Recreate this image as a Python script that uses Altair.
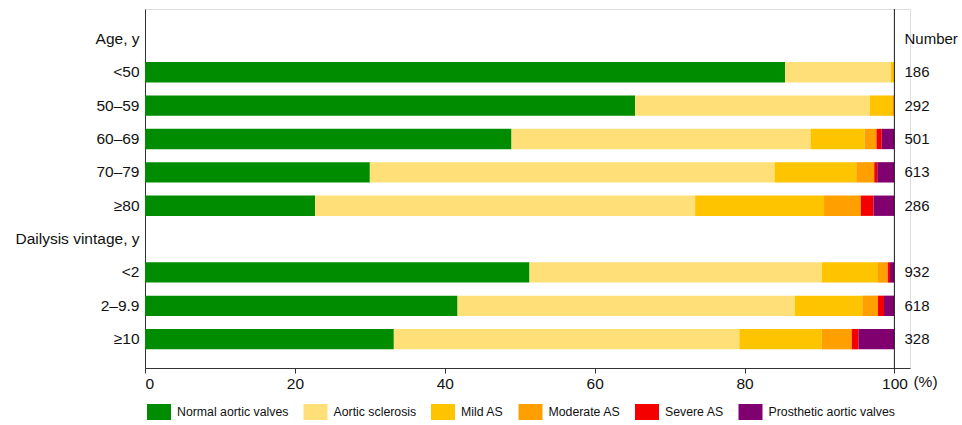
import altair as alt
import pandas as pd

rows = ["Age, y", "<50", "50–59", "60–69", "70–79", "≥80",
        "Dailysis vintage, y", "<2", "2–9.9", "≥10"]
bar_rows = ["<50", "50–59", "60–69", "70–79", "≥80", "<2", "2–9.9", "≥10"]
categories = ["Normal aortic valves", "Aortic sclerosis", "Mild AS",
              "Moderate AS", "Severe AS", "Prosthetic aortic valves"]
colors = ["#008C00", "#FFDF78", "#FFC400", "#FFA000", "#F50000", "#7F006E"]

normal = [85.4, 65.4, 48.9, 30.0, 22.7, 51.3, 41.7, 33.2]
sclerosis = [14.1, 31.3, 39.9, 54.0, 50.7, 39.0, 45.0, 46.1]
mild = [0.5, 3.0, 7.2, 10.9, 17.2, 7.5, 9.0, 11.0]
moderate = [0.0, 0.3, 1.6, 2.4, 4.9, 1.3, 2.1, 4.0]
severe = [0.0, 0.0, 0.7, 0.4, 1.7, 0.3, 0.8, 0.9]
prosthetic = [0.0, 0.0, 1.7, 2.3, 2.8, 0.6, 1.4, 4.8]
numbers = ["186", "292", "501", "613", "286", "932", "618", "328"]

series = [normal, sclerosis, mild, moderate, severe, prosthetic]
recs = []
for ci, (cat, vals) in enumerate(zip(categories, series)):
    for r, v in zip(bar_rows, vals):
        recs.append({"row": r, "cat": cat, "value": v, "idx": ci})
df = pd.DataFrame(recs)

num_df = pd.DataFrame({"row": ["Age, y"] + bar_rows,
                       "label": ["Number"] + numbers,
                       "x": [100] * (len(bar_rows) + 1)})

FONT = "Liberation Sans"

yscale = alt.Scale(domain=rows, paddingInner=0.39, paddingOuter=0.575, align=0.514)
xscale = alt.Scale(domain=[0, 102.07], nice=False, zero=True)

bars = alt.Chart(df).mark_bar().encode(
    y=alt.Y("row:N", scale=yscale,
            axis=alt.Axis(title=None, ticks=False, domain=True, domainColor="#333",
                          labelFontSize=15.5, labelFont=FONT, labelColor="#111",
                          labelPadding=6)),
    x=alt.X("value:Q", stack="zero", scale=xscale,
            axis=alt.Axis(values=[0, 20, 40, 60, 80, 100], title="(%)",
                          titleX=780, titleY=13, titleAlign="center",
                          titleBaseline="middle", titleFontSize=15.5,
                          titleFontWeight="normal", titleFont=FONT, titleColor="#111",
                          labelFontSize=15.5, labelFont=FONT, labelColor="#111",
                          tickSize=5, tickColor="#333", domainColor="#333",
                          grid=False, labelPadding=3)),
    color=alt.Color("cat:N", scale=alt.Scale(domain=categories, range=colors),
                    legend=alt.Legend(orient="none", legendX=6, legendY=395,
                                      direction="horizontal", columns=6, title=None,
                                      symbolType="M-1.5,-1L1.5,-1L1.5,1L-1.5,1Z",
                                      symbolSize=256, symbolStrokeWidth=0,
                                      symbolOpacity=1,
                                      labelFontSize=12.3, labelFont=FONT,
                                      labelColor="#111", labelOffset=10,
                                      columnPadding=14.5, padding=0)),
    order=alt.Order("idx:Q"),
)

right_rule = alt.Chart(num_df).mark_rule(color="#333", strokeWidth=1).encode(
    x=alt.datum(100, scale=xscale)
)

nums = alt.Chart(num_df).mark_text(align="left", baseline="middle", dx=10,
                                   fontSize=15, font=FONT, color="#111").encode(
    y=alt.Y("row:N", scale=yscale),
    x=alt.X("x:Q", scale=xscale),
    text="label:N",
)

chart = alt.layer(bars, right_rule, nums).properties(
    width=765, height=359,
    autosize=alt.AutoSizeParams(type="none"),
    padding={"left": 145, "top": 9, "right": 52, "bottom": 57},
).configure_view(stroke=None).configure(background="white")

chart.save("out.html", embed_options={"renderer": "svg", "actions": False})
